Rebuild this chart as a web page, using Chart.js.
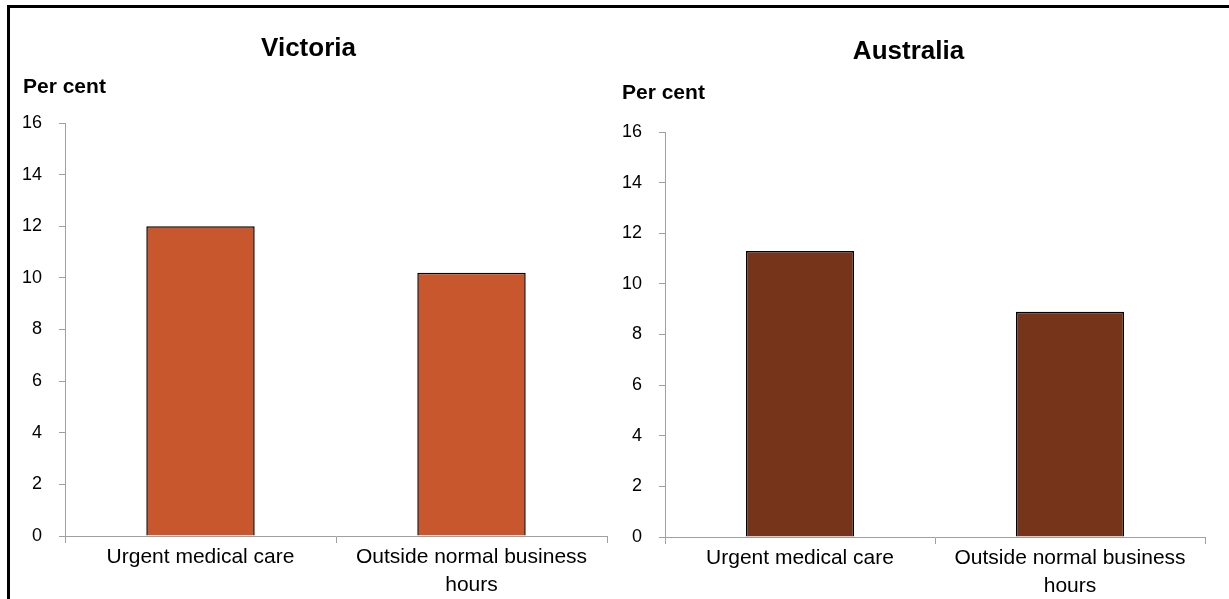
<!DOCTYPE html>
<html>
<head>
<meta charset="utf-8">
<script src="https://cdn.jsdelivr.net/npm/chart.js@4/dist/chart.umd.min.js"></script>
<style>
  html, body { margin: 0; padding: 0; background: #fff; width: 1229px; height: 599px; overflow: hidden; }
  #frame { position: absolute; left: 7px; top: 5px; width: 1230px; height: 600px; border-top: 3px solid #000; border-left: 3px solid #000; box-sizing: border-box; }
  .wrap { position: absolute; top: 8px; width: 600px; height: 591px; }
  #w1 { left: 10px; }
  #w2 { left: 612px; }
</style>
</head>
<body>
<div id="frame"></div>
<div class="wrap" id="w1"><canvas id="c1"></canvas></div>
<div class="wrap" id="w2"><canvas id="c2"></canvas></div>
<script>
const categories = ['Urgent medical care', ['Outside normal business', 'hours']];
const victoriaValues = [12.0, 10.2];
const australiaValues = [11.3, 8.9];
const yMin = 0;
const yMax = 16;
const yStep = 2;
const panelTitles = ['Victoria', 'Australia'];
const yAxisLabel = 'Per cent';

const FONT = "'Liberation Sans', Arial, Helvetica, sans-serif";
const AXIS_GREY = '#A0A0A0';

const perCentPlugin = {
  id: 'perCent',
  afterDraw(chart, args, opts) {
    const ctx = chart.ctx;
    ctx.save();
    ctx.font = 'bold 21px ' + FONT;
    ctx.fillStyle = '#000';
    ctx.textAlign = 'left';
    ctx.textBaseline = 'middle';
    ctx.fillText(opts.text, opts.x, opts.y);
    ctx.restore();
  }
};

function makeChart(id, title, values, color, cfg) {
  return new Chart(document.getElementById(id), {
    type: 'bar',
    data: {
      labels: categories,
      datasets: [{
        data: values,
        backgroundColor: color,
        borderColor: '#000',
        borderWidth: 1.5,
        borderSkipped: 'bottom',
        categoryPercentage: 1.0,
        barPercentage: 0.4
      }]
    },
    plugins: [perCentPlugin],
    options: {
      responsive: true,
      maintainAspectRatio: false,
      animation: false,
      events: [],
      layout: { padding: { left: 0, right: cfg.padRight, top: 0, bottom: 0 } },
      plugins: {
        legend: { display: false },
        tooltip: { enabled: false },
        title: {
          display: true,
          text: title,
          color: '#000',
          font: { family: FONT, size: 26, weight: 'bold', lineHeight: 1.2 },
          padding: { top: cfg.titleTop, bottom: cfg.titleBottom }
        },
        perCent: { text: yAxisLabel, x: cfg.pcX, y: cfg.pcY }
      },
      scales: {
        x: {
          afterFit(scale) { scale.height = cfg.xHeight; },
          grid: { display: true, drawOnChartArea: false, drawTicks: true, tickLength: 7, color: AXIS_GREY, offset: true },
          border: { display: true, color: AXIS_GREY, width: 1 },
          ticks: { color: '#000', font: { family: FONT, size: 21, lineHeight: 1.3 }, padding: 1, maxRotation: 0, autoSkip: false }
        },
        y: {
          min: yMin,
          max: yMax,
          afterFit(scale) { scale.width = cfg.yWidth; },
          grid: { display: true, drawOnChartArea: false, drawTicks: true, tickLength: 6, color: AXIS_GREY },
          border: { display: true, color: AXIS_GREY, width: 1 },
          ticks: { stepSize: yStep, color: '#000', font: { family: FONT, size: 18 }, padding: 17 }
        }
      }
    }
  });
}

makeChart('c1', panelTitles[0], victoriaValues, '#C9572D', {
  padRight: 3, titleTop: 25, titleBottom: 58.8, xHeight: 63, yWidth: 55, pcX: 13, pcY: 79
});
makeChart('c2', panelTitles[1], australiaValues, '#76341A', {
  padRight: 7, titleTop: 28.5, titleBottom: 64.3, xHeight: 62, yWidth: 53, pcX: 10, pcY: 85
});
</script>
</body>
</html>
